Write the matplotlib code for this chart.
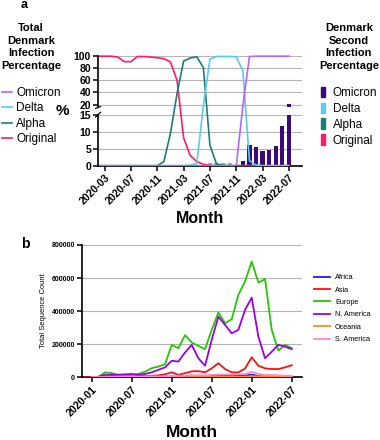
import numpy as np
import matplotlib
matplotlib.use("Agg")
import matplotlib.pyplot as plt
from matplotlib.patches import Patch

plt.rcParams['font.family'] = ['Liberation Sans', 'DejaVu Sans']

# ---------------- Panel a data ----------------
months_a = ['2020-02', '2020-03', '2020-04', '2020-05', '2020-06', '2020-07', '2020-08', '2020-09',
            '2020-10', '2020-11', '2020-12', '2021-01', '2021-02', '2021-03', '2021-04', '2021-05',
            '2021-06', '2021-07', '2021-08', '2021-09', '2021-10', '2021-11', '2021-12', '2022-01',
            '2022-02', '2022-03', '2022-04', '2022-05', '2022-06', '2022-07']
original = [100, 100, 100, 98.5, 91, 91, 99.5, 99.5, 98.5, 97.5, 96, 90.5, 60, 8.2, 3, 1.2,
            0.4, 0.1, 0, 0, 0, 0, 0, 0, 0, 0, 0, 0, 0, 0]
alpha = [0, 0, 0, 0, 0, 0, 0, 0, 0, 0, 1.2, 9.5, 38, 92, 97, 99, 81, 6, 0.5, 0.1, 0, 0, 0, 0,
         0, 0, 0, 0, 0, 0]
delta = [0, 0, 0, 0, 0, 0, 0, 0, 0, 0, 0, 0, 0, 0, 0.2, 0.6, 18, 95, 99.5, 99.5, 99.5, 99,
         76, 1.5, 0.2, 0, 0, 0, 0, 0]
omicron = [0, 0, 0, 0, 0, 0, 0, 0, 0, 0, 0, 0, 0, 0, 0, 0, 0, 0, 0, 0, 0, 0, 17, 99.5, 100,
           100, 100, 100, 100, 100]

second_months_delta = ['2021-07', '2021-08', '2021-09', '2021-10', '2021-11']
second_delta = [0.9, 0.8, 0.8, 0.8, 0.3]
second_months_omicron = ['2021-12', '2022-01', '2022-02', '2022-03', '2022-04', '2022-05',
                         '2022-06', '2022-07']
second_omicron = [1.5, 6.1, 5.4, 4.4, 4.6, 5.9, 11.8, 20.5]

ticks_a = ['2020-03', '2020-07', '2020-11', '2021-03', '2021-07', '2021-11', '2022-03', '2022-07']

# ---------------- Panel b data ----------------
months_b = ['2019-12', '2020-01', '2020-02', '2020-03', '2020-04', '2020-05', '2020-06', '2020-07',
            '2020-08', '2020-09', '2020-10', '2020-11', '2020-12', '2021-01', '2021-02', '2021-03',
            '2021-04', '2021-05', '2021-06', '2021-07', '2021-08', '2021-09', '2021-10', '2021-11',
            '2021-12', '2022-01', '2022-02', '2022-03', '2022-04', '2022-05', '2022-06', '2022-07']
africa = [np.nan, 0, 500, 1000, 1000, 1000, 1000, 1000, 1000, 1500, 2500, 3000, 3000, 5000, 5000,
          5000, 5000, 5000, 5000, 8000, 8000, 8000, 8000, 8000, 10000, 16000, 8000, 5000, 5000,
          5000, 4000, 3000]
asia = [0, 0, 3000, 5000, 8000, 6000, 5000, 6000, 7000, 7000, 8000, 12000, 18000, 30000, 15000,
        25000, 36000, 37000, 30000, 54000, 85000, 50000, 30000, 30000, 53000, 121000, 70000, 54000,
        50000, 50000, 60000, 73000]
europe = [np.nan, 0, 2000, 30000, 26000, 12000, 12000, 14000, 20000, 34000, 55000, 65000, 79000,
          196000, 176000, 255000, 210000, 190000, 170000, 287000, 392000, 327000, 351000, 499000,
          580000, 700000, 573000, 594000, 287000, 161000, 196000, 176000]
n_america = [np.nan, 0, 3000, 15000, 16000, 16000, 18000, 20000, 15000, 20000, 30000, 45000,
             60000, 100000, 95000, 150000, 196000, 115000, 70000, 226000, 367000, 317000, 266000,
             287000, 408000, 482000, 246000, 115000, 155000, 196000, 185000, 171000]
oceania = [np.nan, 0, 300, 1000, 1500, 800, 800, 1500, 1500, 1000, 800, 800, 1000, 1500, 1500,
           2000, 2000, 2000, 2000, 2500, 3000, 3000, 3000, 3000, 4000, 6000, 6000, 7000, 7000,
           6000, 5000, 3000]
s_america = [np.nan, 0, 500, 1500, 3000, 3000, 3000, 3000, 3000, 4000, 5000, 5000, 5000, 8000,
             9000, 10000, 12000, 12000, 12000, 15000, 16000, 17000, 17000, 18000, 20000, 33000,
             20000, 15000, 14000, 12000, 10000, 8000]
ticks_b = ['2020-01', '2020-07', '2021-01', '2021-07', '2022-01', '2022-07']

# ---------------- styling ----------------
C_OMI = '#b266ff'
C_DEL = '#5cc8f5'
C_ALP = '#1a7f74'
C_ORI = '#ff1a6e'
C_OMI_BAR = '#3c0a78'
GRID = '#b5b5b5'

fig = plt.figure(figsize=(3.8, 4.4), dpi=100)

# broken-axis function scale for panel a
LOW_TOP, UP_BOT, G, R = 15.0, 16.0, 2.28, 0.1775


def fwd(v):
    v = np.asarray(v, dtype=float)
    return np.where(v <= LOW_TOP, v,
                    np.where(v < UP_BOT, LOW_TOP + (v - LOW_TOP) * G / (UP_BOT - LOW_TOP),
                             LOW_TOP + G + (v - UP_BOT) * R))


def inv(s):
    s = np.asarray(s, dtype=float)
    return np.where(s <= LOW_TOP, s,
                    np.where(s < LOW_TOP + G, LOW_TOP + (s - LOW_TOP) * (UP_BOT - LOW_TOP) / G,
                             UP_BOT + (s - LOW_TOP - G) / R))


axa = fig.add_axes([0.258, 0.6234, 0.537, 0.2516])
axa.set_yscale('function', functions=(fwd, inv))
xa = np.arange(len(months_a))
idx_a = {m: i for i, m in enumerate(months_a)}

for lv in [5, 10, 15, 20, 40, 60, 80, 100]:
    axa.axhline(lv, color=GRID, lw=0.8, zorder=1)

axa.bar([idx_a[m] for m in second_months_delta], second_delta, width=0.65, color=C_DEL, zorder=2)
axa.bar([idx_a[m] for m in second_months_omicron], second_omicron, width=0.65, color=C_OMI_BAR,
        zorder=2)
axa.axhspan(LOW_TOP, UP_BOT, color='white', zorder=2.5, lw=0)

lo = axa.plot(xa, original, color=C_ORI, lw=1.2, zorder=3)[0]
la = axa.plot(xa, alpha, color=C_ALP, lw=1.2, zorder=3)[0]
ld = axa.plot(xa, delta, color=C_DEL, lw=1.2, zorder=3)[0]
lm = axa.plot(xa, omicron, color=C_OMI, lw=1.2, zorder=3)[0]

axa.set_xlim(0, 31)
axa.set_ylim(0, 102)
axa.set_yticks([0, 5, 10, 15, 20, 40, 60, 80, 100])
axa.set_yticklabels(['0', '5', '10', '15', '20', '40', '60', '80', '100'])
axa.set_xticks([idx_a[m] for m in ticks_a])
axa.set_xticklabels(ticks_a, rotation=45, ha='right', rotation_mode='anchor')
for s in ['top', 'right', 'left']:
    axa.spines[s].set_visible(False)
axa.spines['bottom'].set_linewidth(1.2)
axa.tick_params(axis='both', length=3.5, width=1.1, labelsize=7.5, pad=1.5)
for t in axa.get_xticklabels() + axa.get_yticklabels():
    t.set_fontweight('bold')
ytr = axa.get_yaxis_transform()
axa.plot([0, 0], [0, 15], transform=ytr, color='k', lw=1.2, clip_on=False, zorder=4)
axa.plot([0, 0], [16.2, 100], transform=ytr, color='k', lw=1.2, clip_on=False, zorder=4)
axa.plot([-0.012, 0.012], [15.8, 16.6], transform=ytr, color='k', lw=0.9, clip_on=False, zorder=4)
axa.plot([-0.012, 0.012], [14.3, 15.3], transform=ytr, color='k', lw=0.9, clip_on=False, zorder=4)

fig.text(62 / 380, 1 - 111 / 440, '%', fontsize=11, fontweight='bold', ha='center', va='center')
fig.text(200 / 380, 1 - 218 / 440, 'Month', fontsize=11.5, fontweight='bold', ha='center',
         va='center')
fig.text(24 / 380, 1 - 5 / 440, 'a', fontsize=9, fontweight='bold', ha='center', va='center')

leg1 = fig.legend([lm, ld, la, lo], ['Omicron', 'Delta', 'Alpha', 'Original'],
                  title='Total\nDenmark\nInfection\nPercentage\n', loc='upper left',
                  bbox_to_anchor=(0.003, 1 - 23.5 / 440), frameon=False, fontsize=8.5,
                  handlelength=0.9, handletextpad=0.35, labelspacing=0.3, borderpad=0,
                  borderaxespad=0, alignment='center',
                  title_fontproperties={'weight': 'bold', 'size': 8.0})
leg1.get_title().set_multialignment('center')
leg1.get_title().set_linespacing(1.3)
bar_handles = [Patch(color=C_OMI_BAR), Patch(color=C_DEL), Patch(color=C_ALP), Patch(color=C_ORI)]
leg2 = fig.legend(bar_handles, ['Omicron', 'Delta', 'Alpha', 'Original'],
                  title='Denmark\nSecond\nInfection\nPercentage\n', loc='upper right',
                  bbox_to_anchor=(0.997, 1 - 23.5 / 440), frameon=False, fontsize=8.5,
                  handlelength=0.4, handleheight=1.0, handletextpad=0.6, labelspacing=0.3,
                  borderpad=0, borderaxespad=0, alignment='center',
                  title_fontproperties={'weight': 'bold', 'size': 8.0})
leg2.get_title().set_multialignment('center')
leg2.get_title().set_linespacing(1.3)

# ---------------- Panel b ----------------
axb = fig.add_axes([0.215, 0.1425, 0.579, 0.3007])
xb = np.arange(len(months_b)) - 1
idx_b = {m: i - 1 for i, m in enumerate(months_b)}
for lv in [200000, 400000, 600000, 800000]:
    axb.axhline(lv, color=GRID, lw=0.8, zorder=1)
series_b = [('Africa', africa, '#1a1aff'), ('Asia', asia, '#ff1010'),
            ('Europe', europe, '#22c800'), ('N. America', n_america, '#9b00e6'),
            ('Oceania', oceania, '#ff8c1a'), ('S. America', s_america, '#ff88d8')]
hb = []
for name, vals, col in series_b:
    hb.append(axb.plot(xb, vals, color=col, lw=1.3, label=name, zorder=3)[0])
axb.set_xlim(-1.5, 31.5)
axb.set_ylim(0, 800000)
axb.set_yticks([0, 200000, 400000, 600000, 800000])
axb.set_yticklabels(['0', '200000', '400000', '600000', '800000'])
axb.set_xticks([idx_b[m] for m in ticks_b])
axb.set_xticklabels(ticks_b, rotation=45, ha='right', rotation_mode='anchor')
for s in ['top', 'right']:
    axb.spines[s].set_visible(False)
axb.spines['bottom'].set_linewidth(1.2)
axb.spines['left'].set_linewidth(1.2)
axb.tick_params(axis='x', length=3.5, width=1.1, labelsize=7.5, pad=1.5)
axb.tick_params(axis='y', length=3.5, width=1.1, labelsize=5, pad=1.5)
for t in axb.get_xticklabels() + axb.get_yticklabels():
    t.set_fontweight('bold')
axb.set_ylabel('Total Sequence Count', fontsize=5.4, labelpad=3)
fig.text(192 / 380, 1 - 432 / 440, 'Month', fontsize=12.5, fontweight='bold', ha='center',
         va='center')
fig.text(25 / 380, 1 - 244 / 440, 'b', fontsize=10, fontweight='bold', ha='center', va='center')

fig.legend(hb, [s[0] for s in series_b], loc='upper left',
           bbox_to_anchor=(314 / 380, 1 - 274 / 440), frameon=False, fontsize=5.2,
           handlelength=2.2, handletextpad=0.7, labelspacing=0.75, borderpad=0, borderaxespad=0)

fig.savefig('out.png', dpi=100)
